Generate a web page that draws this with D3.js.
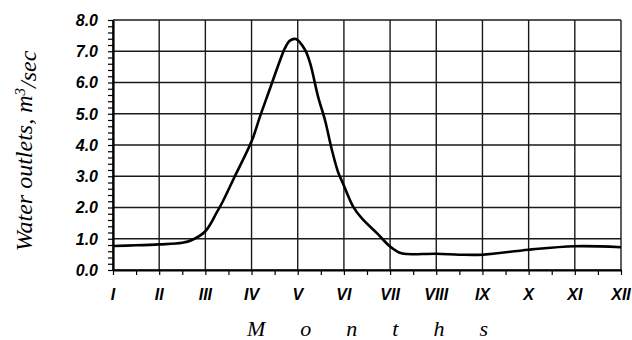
<!DOCTYPE html>
<html>
<head>
<meta charset="utf-8">
<script src="https://cdn.jsdelivr.net/npm/d3@7"></script>
<style>
  body { margin: 0; background: #fff; }
  svg { display: block; }
</style>
</head>
<body>
<figure id="chart" style="margin:0"></figure>
<script>
// month labels, one per gridline
const monthLabels = ["I", "II", "III", "IV", "V", "VI", "VII", "VIII", "IX", "X", "XI", "XII"];
// position along the month axis (0 = I) and discharge
const monthPos = [0, 0.5, 1, 1.5, 1.71, 2, 2.25, 2.38, 2.6, 3.01, 3.18, 3.4, 3.62, 3.72, 3.83, 3.96,
  4.16, 4.27, 4.44, 4.59, 4.74, 4.87, 4.98, 5.2, 5.39, 5.72, 6, 6.21, 6.37, 7, 7.5, 8, 9, 10, 11];
const outlets = [0.77, 0.79, 0.82, 0.87, 0.96, 1.24, 1.85, 2.2, 2.88, 4.15, 4.9, 5.81, 6.72, 7.09, 7.34, 7.39,
  7.04, 6.61, 5.55, 4.8, 3.84, 3.15, 2.77, 2.03, 1.65, 1.17, 0.75, 0.55, 0.51, 0.52, 0.49, 0.49, 0.65, 0.76, 0.73];
const yTicks = [0, 1, 2, 3, 4, 5, 6, 7, 8];

const width = 632, height = 340;
const plotLeft = 113, plotRight = 621, plotTop = 20, plotBottom = 270;

const svg = d3.select("figure#chart")
  .append("svg")
  .attr("width", width)
  .attr("height", height);

const x = d3.scaleLinear().domain([0, 11]).range([plotLeft, plotRight]);
const y = d3.scaleLinear().domain([0, 8]).range([plotBottom, plotTop]);

// grid
svg.append("g")
  .selectAll("line")
  .data(yTicks)
  .enter()
  .append("line")
  .attr("x1", plotLeft).attr("x2", plotRight)
  .attr("y1", d => y(d)).attr("y2", d => y(d))
  .attr("stroke", "#1a1a1a")
  .attr("stroke-width", 1.4);

svg.append("g")
  .selectAll("line")
  .data(d3.range(monthLabels.length))
  .enter()
  .append("line")
  .attr("x1", d => x(d)).attr("x2", d => x(d))
  .attr("y1", plotTop).attr("y2", plotBottom)
  .attr("stroke", "#1a1a1a")
  .attr("stroke-width", 1.4);

// y axis, minor ticks every 0.2
const yAxis = svg.append("g")
  .attr("transform", `translate(${plotLeft},0)`)
  .call(d3.axisLeft(y).tickValues(d3.range(0, 8.01, 0.2)).tickSize(5).tickSizeOuter(0).tickFormat(""));
yAxis.select(".domain").attr("stroke-width", 2.2);
yAxis.selectAll(".tick line").attr("stroke-width", 1.2);

svg.append("g")
  .selectAll("text")
  .data(yTicks)
  .enter()
  .append("text")
  .attr("x", 98)
  .attr("y", d => y(d))
  .attr("dy", "0.36em")
  .attr("text-anchor", "end")
  .style("font-family", "'Liberation Sans', Arial, sans-serif")
  .style("font-weight", "bold")
  .style("font-style", "italic")
  .style("font-size", "16px")
  .text(d => d.toFixed(1));

// x axis, ticks at months and half months
const xAxis = svg.append("g")
  .attr("transform", `translate(0,${plotBottom})`)
  .call(d3.axisBottom(x).tickValues(d3.range(0, 11.01, 0.5)).tickSize(5).tickSizeOuter(0).tickFormat(""));
xAxis.select(".domain").attr("stroke-width", 2.2);
xAxis.selectAll(".tick line").attr("stroke-width", 1.2);

svg.append("g")
  .selectAll("text")
  .data(monthLabels)
  .enter()
  .append("text")
  .attr("x", (d, i) => x(i))
  .attr("y", 300)
  .attr("text-anchor", "middle")
  .style("font-family", "'Liberation Sans', Arial, sans-serif")
  .style("font-weight", "bold")
  .style("font-style", "italic")
  .style("font-size", "16px")
  .text(d => d);

// the curve
const line = d3.line()
  .x((d, i) => x(monthPos[i]))
  .y(d => y(d))
  .curve(d3.curveCatmullRom.alpha(0.5));

svg.append("path")
  .datum(outlets)
  .attr("fill", "none")
  .attr("stroke", "#000")
  .attr("stroke-width", 2.6)
  .attr("stroke-linejoin", "round")
  .attr("d", line);

// titles
const yTitle = svg.append("text")
  .attr("transform", "translate(32,151) rotate(-90)")
  .attr("text-anchor", "middle")
  .style("font-family", "'Liberation Serif', 'Times New Roman', serif")
  .style("font-style", "italic")
  .style("font-size", "24px");
yTitle.append("tspan").text("Water outlets, m");
yTitle.append("tspan").attr("dy", "-0.45em").style("font-size", "15px").text("3");
yTitle.append("tspan").attr("dy", "0.45em").text("/sec");

svg.append("text")
  .attr("x", 247)
  .attr("y", 336)
  .style("font-family", "'Liberation Serif', 'Times New Roman', serif")
  .style("font-style", "italic")
  .style("font-size", "22px")
  .style("letter-spacing", "35px")
  .text("Months");
</script>
</body>
</html>
